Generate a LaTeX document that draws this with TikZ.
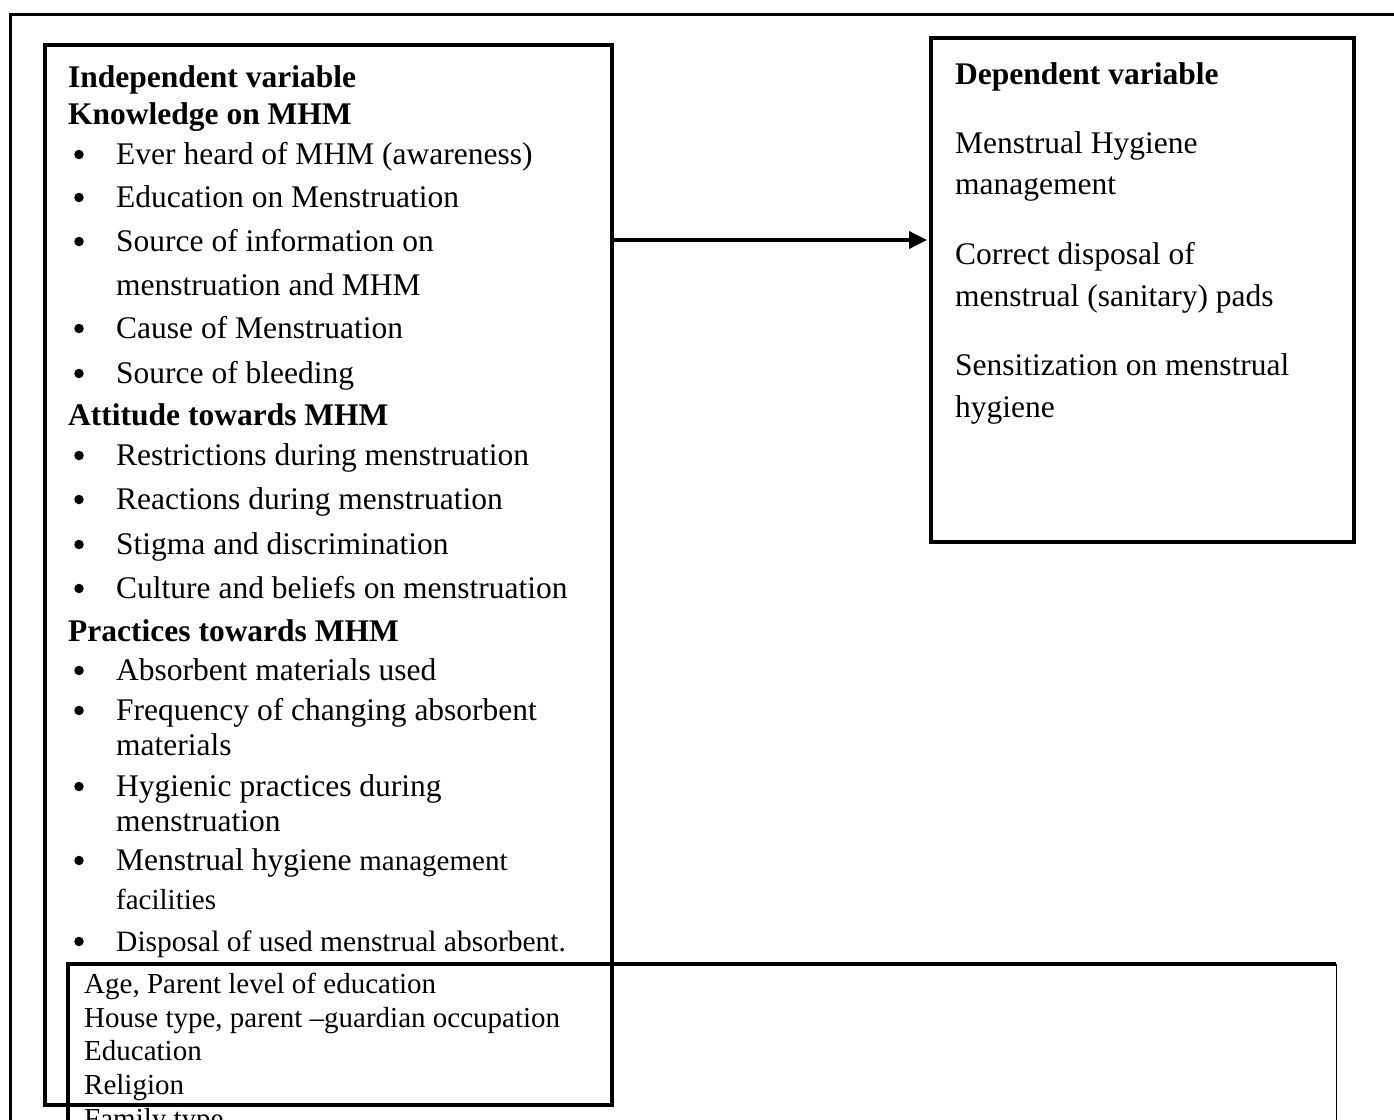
\documentclass[tikz,border=0pt]{standalone}
\usepackage{fontspec}
\setmainfont{Liberation Serif}
\usetikzlibrary{arrows.meta}
\newcommand\szmain{\fontsize{31.5}{38}\selectfont}
\newcommand\szsmall{\fontsize{29}{34}\selectfont}
\newcommand\szdisp{\fontsize{29.5}{34}\selectfont}
\newcommand\szbot{\fontsize{29}{34}\selectfont}
\begin{document}
\begin{tikzpicture}[x=1pt,y=-1pt,
  txt/.style={anchor=base west, inner sep=0pt, font=\szmain},
  head/.style={anchor=base west, inner sep=0pt, font=\szmain\bfseries},
  bot/.style={anchor=base west, inner sep=0pt, font=\szbot},
  dot/.style={circle, fill=black, inner sep=0pt, minimum size=9.5pt},
  box/.style={draw=black, line width=3.5pt, inner sep=0pt, rectangle}]
\useasboundingbox (0,0) rectangle (1394,1119);
\clip (0,0) rectangle (1394,1119);
% outer frame
\coordinate (ftr) at (1400,14);
\coordinate (ftl) at (10,14);
\coordinate (fbl) at (10,1130);
\draw[line width=3pt] (ftr) -- (ftl) -- (fbl);
% boxes
\node[box, minimum width=567pt, minimum height=1060pt] (lbox) at (328.5,575) {};
\node[box, line width=4pt, minimum width=423pt, minimum height=504pt] (rbox) at (1142.5,290) {};
\node[inner sep=0pt, minimum width=1268pt, minimum height=196pt] (bbox) at (702,1062) {};
\draw[line width=3.5pt] (bbox.south west) -- (bbox.north west) -- (bbox.north east);
\draw[line width=1pt] (bbox.north east) -- (bbox.south east);
% arrow
\coordinate (arr) at (0,240);
\draw[line width=3.5pt, -{Triangle[length=18pt,width=17pt]}, shorten >=2pt] (lbox.east |- arr) -- (rbox.west |- arr);
% left box text
\node[head] (h1) at (68,87) {Independent variable};
\node[head] (h2) at (68,124) {Knowledge on MHM};
\node[txt] (k1) at (116,164) {Ever heard of MHM (awareness)};
\node[txt] (k2) at (116,207) {Education on Menstruation};
\node[txt] (k3) at (116,251) {Source of information on};
\node[txt] (k3b) at (116,295) {menstruation and MHM};
\node[txt] (k4) at (116,338) {Cause of Menstruation};
\node[txt] (k5) at (116,383) {Source of bleeding};
\node[head] (h3) at (68,425) {Attitude towards MHM};
\node[txt] (a1) at (116,465) {Restrictions during menstruation};
\node[txt] (a2) at (116,509) {Reactions during menstruation};
\node[txt] (a3) at (116,554) {Stigma and discrimination};
\node[txt] (a4) at (116,598) {Culture and beliefs on menstruation};
\node[head] (h4) at (68,641) {Practices towards MHM};
\node[txt] (p1) at (116,680) {Absorbent materials used};
\node[txt] (p2) at (116,720) {Frequency of changing absorbent};
\node[txt] (p2b) at (116,755) {materials};
\node[txt] (p3) at (116,796) {Hygienic practices during};
\node[txt] (p3b) at (116,831) {menstruation};
\node[txt] (p4) at (116,870) {Menstrual hygiene {\szsmall management}};
\node[txt, font=\szsmall] (p4b) at (116,909) {facilities};
\node[txt, font=\szdisp] (p5) at (116,951) {Disposal of used menstrual absorbent.};
% bullets
\foreach \n/\y in {u1/164,u2/207,u3/251,u4/338,u5/383,u6/465,u7/509,u8/554,u9/598,u10/680,u11/720,u12/796,u13/870,u14/951}
  \node[dot] (\n) at (79,\y-9.5) {};
% right box text
\node[head] (d0) at (955,84) {Dependent variable};
\node[txt] (d1) at (955,153) {Menstrual Hygiene};
\node[txt] (d1b) at (955,194) {management};
\node[txt] (d2) at (955,264) {Correct disposal of};
\node[txt] (d2b) at (955,306) {menstrual (sanitary) pads};
\node[txt] (d3) at (955,375) {Sensitization on menstrual};
\node[txt] (d3b) at (955,417) {hygiene};
% bottom box text
\node[bot] (b1) at (84,993) {Age, Parent level of education};
\node[bot] (b2) at (84,1027) {House type, parent –guardian occupation};
\node[bot] (b3) at (84,1060) {Education};
\node[bot] (b4) at (84,1094) {Religion};
\node[bot] (b5) at (84,1128) {Family type};
\end{tikzpicture}
\end{document}
